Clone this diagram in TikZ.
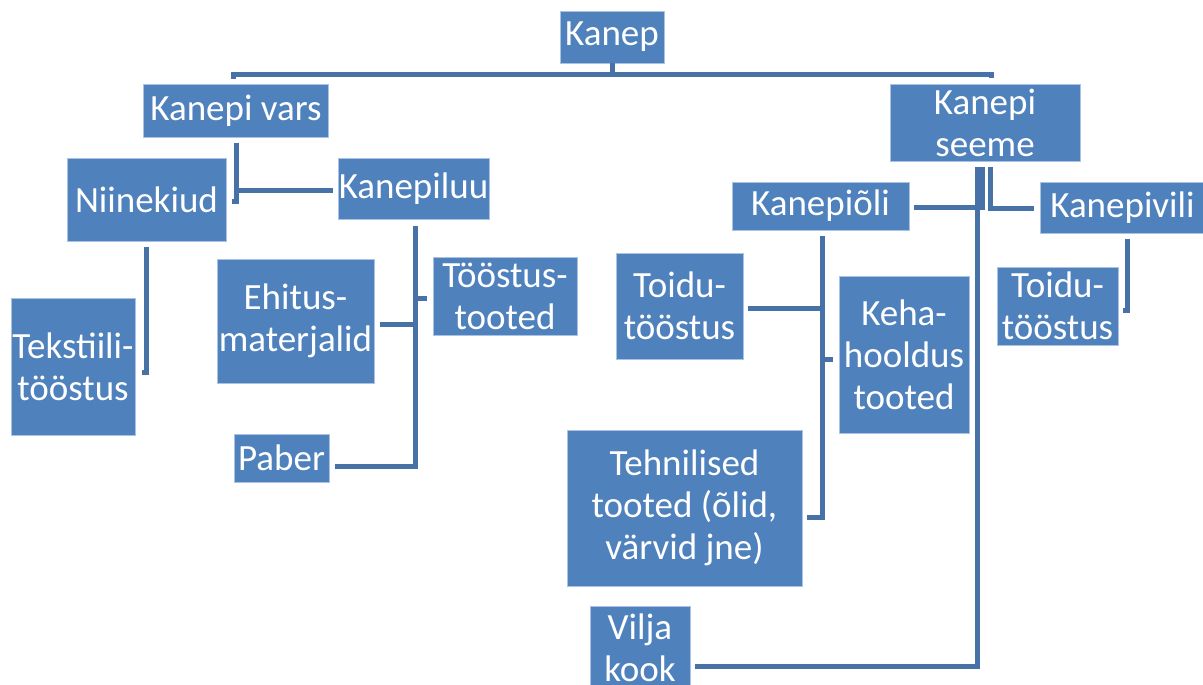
\documentclass[tikz,border=0pt]{standalone}
\usepackage{fontspec}
\setmainfont{Carlito}
\definecolor{boxblue}{RGB}{79,129,189}
\definecolor{boxedge}{RGB}{170,195,228}
\definecolor{linkblue}{RGB}{70,114,168}
\begin{document}
\begin{tikzpicture}[x=1pt,y=-1pt,
  box/.style={fill=boxblue, draw=boxedge, line width=0.8pt, text=white, inner sep=0pt, align=center, font=\fontsize{37}{42}\selectfont},
  conn/.style={draw=linkblue, line width=5pt}]
\useasboundingbox (0,0) rectangle (1203,685);
% nodes
\node[box, minimum width=104, minimum height=52] (kanep) at (612,37) {Kanep};
\node[box, minimum width=185, minimum height=53] (vars) at (236,110.5) {Kanepi vars};
\node[box, minimum width=190, minimum height=77] (seeme) at (985,122.5) {Kanepi\\seeme};
\node[box, minimum width=159, minimum height=83] (niine) at (146.5,199.5) {Niinekiud};
\node[box, minimum width=151, minimum height=61] (luu) at (413.5,189) {Kanepiluu};
\node[box, minimum width=124, minimum height=137] (tekst) at (73,366.5) {Tekstiili-\\tööstus};
\node[box, minimum width=157, minimum height=124] (ehit) at (295.5,321) {Ehitus-\\materjalid};
\node[box, minimum width=144, minimum height=78] (toostus) at (505,296) {Tööstus-\\tooted};
\node[box, minimum width=95, minimum height=48] (paber) at (281.5,458) {Paber};
\node[box, minimum width=177, minimum height=48] (oli) at (820.5,206) {Kanepiõli};
\node[box, minimum width=165, minimum height=51] (vili) at (1122.5,207.5) {Kanepivili};
\node[box, minimum width=127, minimum height=106] (toidua) at (679.5,306) {Toidu-\\tööstus};
\node[box, minimum width=130, minimum height=157] (keha) at (904,354.5) {Keha-\\hooldus\\tooted};
\node[box, minimum width=121, minimum height=78] (toidub) at (1057.5,306) {Toidu-\\tööstus};
\node[box, minimum width=235, minimum height=156] (tehn) at (684.5,508) {Tehnilised\\tooted (õlid,\\värvid jne)};
\node[box, minimum width=100, minimum height=84] (vilja) at (640,648) {Vilja\\kook};
% connectors
\draw[conn] (kanep.south) -- ++(0,11) coordinate (tb);
\draw[conn] ([xshift=-3pt,yshift=5pt]vars.north) |- (tb) -| ([xshift=6pt,yshift=6pt]seeme.north);
\draw[conn] ([yshift=-6pt]vars.south) |- ([xshift=-5pt,yshift=-1pt]luu.west);
\draw[conn] ([yshift=-6pt]vars.south) |- ([xshift=6pt,yshift=-1.5pt]niine.east);
\draw[conn] ([xshift=-0.5pt,yshift=-6pt]niine.south) |- ([xshift=7pt,yshift=-5.5pt]tekst.east);
\draw[conn] ([xshift=1.5pt,yshift=-6pt]luu.south) |- ([xshift=6pt,yshift=-3pt]ehit.east);
\draw[conn] ([xshift=1.5pt,yshift=-6pt]luu.south) |- ([xshift=-6pt,yshift=-2pt]toostus.west);
\draw[conn] ([xshift=1.5pt,yshift=-6pt]luu.south) |- ([xshift=6pt,yshift=-8pt]paber.east);
\draw[conn] ([xshift=-3pt,yshift=-6pt]seeme.south) |- ([xshift=5pt,yshift=-1pt]oli.east);
\draw[conn] ([xshift=5pt,yshift=-6pt]seeme.south) |- ([xshift=-6pt,yshift=-0.5pt]vili.west);
\draw[conn] ([xshift=-8pt,yshift=-6pt]seeme.south) |- ([xshift=5pt,yshift=-18pt]vilja.east);
\draw[conn] ([xshift=1.5pt,yshift=-6pt]oli.south) |- ([xshift=5pt,yshift=-2pt]toidua.east);
\draw[conn] ([xshift=1.5pt,yshift=-6pt]oli.south) |- ([xshift=-6pt,yshift=-4.5pt]keha.west);
\draw[conn] ([xshift=1.5pt,yshift=-6pt]oli.south) |- ([xshift=5pt,yshift=-9pt]tehn.east);
\draw[conn] ([xshift=4.5pt,yshift=-6pt]vili.south) |- ([xshift=5pt,yshift=-4pt]toidub.east);
\end{tikzpicture}
\end{document}
